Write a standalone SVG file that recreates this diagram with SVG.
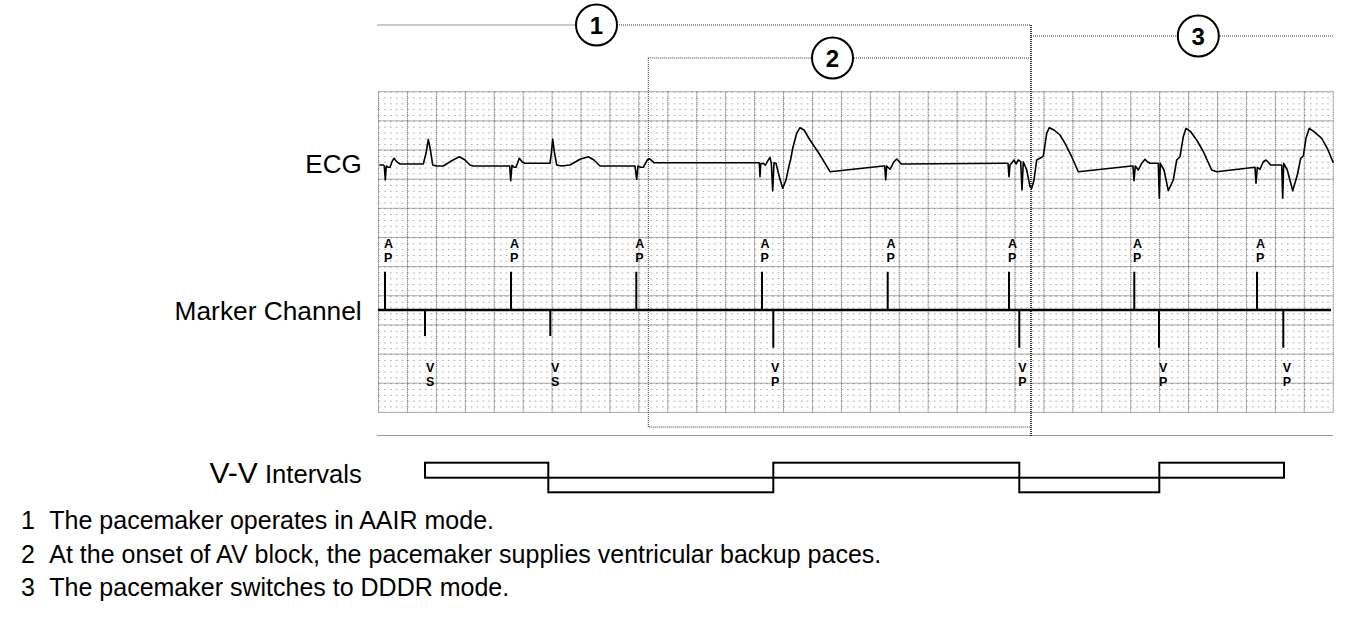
<svg xmlns="http://www.w3.org/2000/svg" width="1368" height="631" viewBox="0 0 1368 631">
<style>
.lbl{font-family:"Liberation Sans",Arial,sans-serif;fill:#000}
.mk{font-family:"Liberation Sans",Arial,sans-serif;font-weight:bold;font-size:12.5px;fill:#000}
.num{font-family:"Liberation Sans",Arial,sans-serif;font-weight:bold;font-size:24px;fill:#000;text-anchor:middle}
.major{stroke:#555;stroke-width:1;stroke-dasharray:1 1;fill:none}
.brk{stroke:#333;stroke-width:1;stroke-dasharray:1 1;fill:none}
.spike{stroke:#000;stroke-width:2;fill:none}
.circ{fill:#fff;stroke:#000;stroke-width:2}
.vv{fill:none;stroke:#000;stroke-width:2}
</style>
<defs>
<pattern id="minor" patternUnits="userSpaceOnUse" x="378.5" y="91.7" width="5.786" height="5.83">
<rect x="0" y="0" width="1.4" height="1" fill="#999"/>
</pattern>
</defs>
<rect width="1368" height="631" fill="#fff"/>
<g id="grid">
<rect x="378.5" y="91.7" width="954.7" height="320.65" fill="url(#minor)"/>
<path class="major" d="M378.5 91.7V412.35M407.43 91.7V412.35M436.36 91.7V412.35M465.29 91.7V412.35M494.22 91.7V412.35M523.15 91.7V412.35M552.08 91.7V412.35M581.01 91.7V412.35M609.94 91.7V412.35M638.87 91.7V412.35M667.8 91.7V412.35M696.73 91.7V412.35M725.66 91.7V412.35M754.59 91.7V412.35M783.52 91.7V412.35M812.45 91.7V412.35M841.38 91.7V412.35M870.31 91.7V412.35M899.24 91.7V412.35M928.17 91.7V412.35M957.1 91.7V412.35M986.03 91.7V412.35M1014.96 91.7V412.35M1043.89 91.7V412.35M1072.82 91.7V412.35M1101.75 91.7V412.35M1130.68 91.7V412.35M1159.61 91.7V412.35M1188.54 91.7V412.35M1217.47 91.7V412.35M1246.4 91.7V412.35M1275.33 91.7V412.35M1304.26 91.7V412.35M1333.19 91.7V412.35"/>
<path class="major" d="M378.5 91.7H1333.2M378.5 120.85H1333.2M378.5 150H1333.2M378.5 179.15H1333.2M378.5 208.3H1333.2M378.5 237.45H1333.2M378.5 266.6H1333.2M378.5 295.75H1333.2M378.5 324.9H1333.2M378.5 354.05H1333.2M378.5 383.2H1333.2M378.5 412.35H1333.2"/>
</g>
<g id="brackets">
<path class="brk" d="M377.5 25H576M617 25H1031M648.3 58H812M854 58H1031M648.3 58V427H1031M1031 36H1177M1220 36H1333.5M377.5 435.5H1333.5"/>
<path class="brk" style="stroke-width:1.6;stroke:#000" d="M1031 25V436"/>
</g>
<g id="circle1"><circle class="circ" cx="596.5" cy="25" r="20.5"/><text class="num" x="596.5" y="33.5">1</text></g>
<g id="circle2"><circle class="circ" cx="832.5" cy="58" r="20.5"/><text class="num" x="832.5" y="66.5">2</text></g>
<g id="circle3"><circle class="circ" cx="1198.3" cy="36" r="20.5"/><text class="num" x="1198.3" y="44.5">3</text></g>
<g id="ecg">
<polyline fill="none" stroke="#000" stroke-width="1.6" stroke-linejoin="round" points="379.3,165 383.3,165 384.3,166 385.3,180 386.3,166 388.3,167.3 390,167.3 392,161.7 394,158.3 396.7,161.7 400,164 423.3,164 426,153.3 428.3,139.3 430.7,151.7 432.7,165 436.7,166 443.3,166 451.7,160.7 459.3,156.7 465,160 470,165 473.3,166 508.3,166 509.7,166 510.7,180.7 512,165.3 514,167.3 516,167.3 519.3,158.3 522,161.7 524.7,163.3 550,163.3 551.3,153.3 552.7,139.3 554.3,151.7 556.7,165 561.7,166 570,165 580,159.3 588.3,156.7 594,160 600,166 635,166 636.7,179.3 638,166 640.7,167.3 643.3,167.3 647.3,160 649.3,158.7 651.7,160.7 654,162.7 700,162.7 758.3,162.7 759.3,162.7 760,176.7 760.7,164 763.3,163.3 765.3,165.3 767.3,161.7 770,157.3 771.3,163.3 772.7,190.7 774,162.7 776,163.3 779.3,176.7 782.7,188.3 786,180 788.7,167.3 790.7,159.3 792.7,148.3 796.7,133.3 800,127.7 804,130 810,140 820,155 830,171.7 883.3,166 884.7,166 885.7,180 886.7,166 890,169.3 894,161.7 896.7,159 899.3,161.7 901.3,164 1006.7,163.3 1008,163.3 1009,176.7 1010,165 1012.7,161.7 1014,160 1016,164 1018.3,160 1020.7,161.7 1022,190 1023.3,161.7 1026.7,170 1030,186.7 1031.7,188.3 1034,180 1036.7,160 1041.7,157.3 1043.3,156 1046.7,133.3 1049.3,127.7 1054,130 1060,135 1065,143.3 1071.7,156.7 1078.3,171.7 1131.7,166 1133,166 1134,180.7 1135.3,166 1138.3,170 1141.7,163.3 1145,159.3 1147.3,161.7 1150,163.3 1158.3,163.3 1159.3,198.3 1160.3,163.3 1164,170 1168.3,190.7 1173.3,180 1176.7,160 1180,156.7 1183.3,136.7 1186,128.3 1190.7,131.7 1196.7,140 1203.3,151.7 1211.7,170 1216.7,171.7 1255,167.3 1256,183.3 1257.3,167.3 1260,169.3 1263.3,161.7 1266,160 1268.7,162.7 1270.7,165 1281.7,165 1282.7,198.3 1283.7,163.3 1287.3,170 1292.7,190.7 1297.3,175 1300.7,158.3 1303.3,156 1306,138.3 1309.3,128.3 1314,131.7 1321.7,138.3 1327.3,148.3 1333.3,162.7"/>
</g>
<g id="marker-channel">
<line x1="378" y1="310" x2="1331" y2="310" stroke="#000" stroke-width="2.5"/>
<path class="spike" d="M385 271.7V310M511 271.7V310M636.3 271.7V310M762 271.7V310M887.7 271.7V310M1009 271.7V310M1134.3 271.7V310M1257 271.7V310"/>
<path class="spike" d="M425 310V336M550.3 310V336M773.3 310V347.7M1019.3 310V347.7M1159 310V347.7M1283.3 310V347.7"/>
<g class="mk">
<text x="384" y="248.3">A</text><text x="384" y="261.7">P</text>
<text x="510" y="248.3">A</text><text x="510" y="261.7">P</text>
<text x="635.3" y="248.3">A</text><text x="635.3" y="261.7">P</text>
<text x="760.5" y="248.3">A</text><text x="760.5" y="261.7">P</text>
<text x="886.5" y="248.3">A</text><text x="886.5" y="261.7">P</text>
<text x="1008" y="248.3">A</text><text x="1008" y="261.7">P</text>
<text x="1133" y="248.3">A</text><text x="1133" y="261.7">P</text>
<text x="1256" y="248.3">A</text><text x="1256" y="261.7">P</text>
<text x="426" y="371.7">V</text><text x="426" y="385.7">S</text>
<text x="551" y="371.7">V</text><text x="551" y="385.7">S</text>
<text x="771" y="371.7">V</text><text x="771" y="385.7">P</text>
<text x="1018.3" y="371.7">V</text><text x="1018.3" y="385.7">P</text>
<text x="1159" y="371.7">V</text><text x="1159" y="385.7">P</text>
<text x="1282.7" y="371.7">V</text><text x="1282.7" y="385.7">P</text>
</g>
</g>
<g id="vv-intervals">
<rect class="vv" x="425" y="462.7" width="123.3" height="15"/>
<rect class="vv" x="548.3" y="477.7" width="225" height="14.6"/>
<rect class="vv" x="773.3" y="462.7" width="246" height="15"/>
<rect class="vv" x="1019.3" y="477.7" width="140" height="14.6"/>
<rect class="vv" x="1159.3" y="462.7" width="124.7" height="15"/>
</g>
<g id="labels">
<text class="lbl" x="361.7" y="173.3" font-size="26" text-anchor="end">ECG</text>
<text class="lbl" x="361.7" y="320" font-size="26.3" text-anchor="end">Marker Channel</text>
<text class="lbl" x="361.7" y="483.3" text-anchor="end"><tspan font-size="30">V-V</tspan><tspan font-size="25.6"> Intervals</tspan></text>
</g>
<g id="notes" class="lbl" font-size="25">
<text x="21" y="529.3">1</text><text x="49.3" y="529.3">The pacemaker operates in AAIR mode.</text>
<text x="21" y="563.3">2</text><text x="49.3" y="563.3">At the onset of AV block, the pacemaker supplies ventricular backup paces.</text>
<text x="21" y="596">3</text><text x="49.3" y="596">The pacemaker switches to DDDR mode.</text>
</g>
</svg>
